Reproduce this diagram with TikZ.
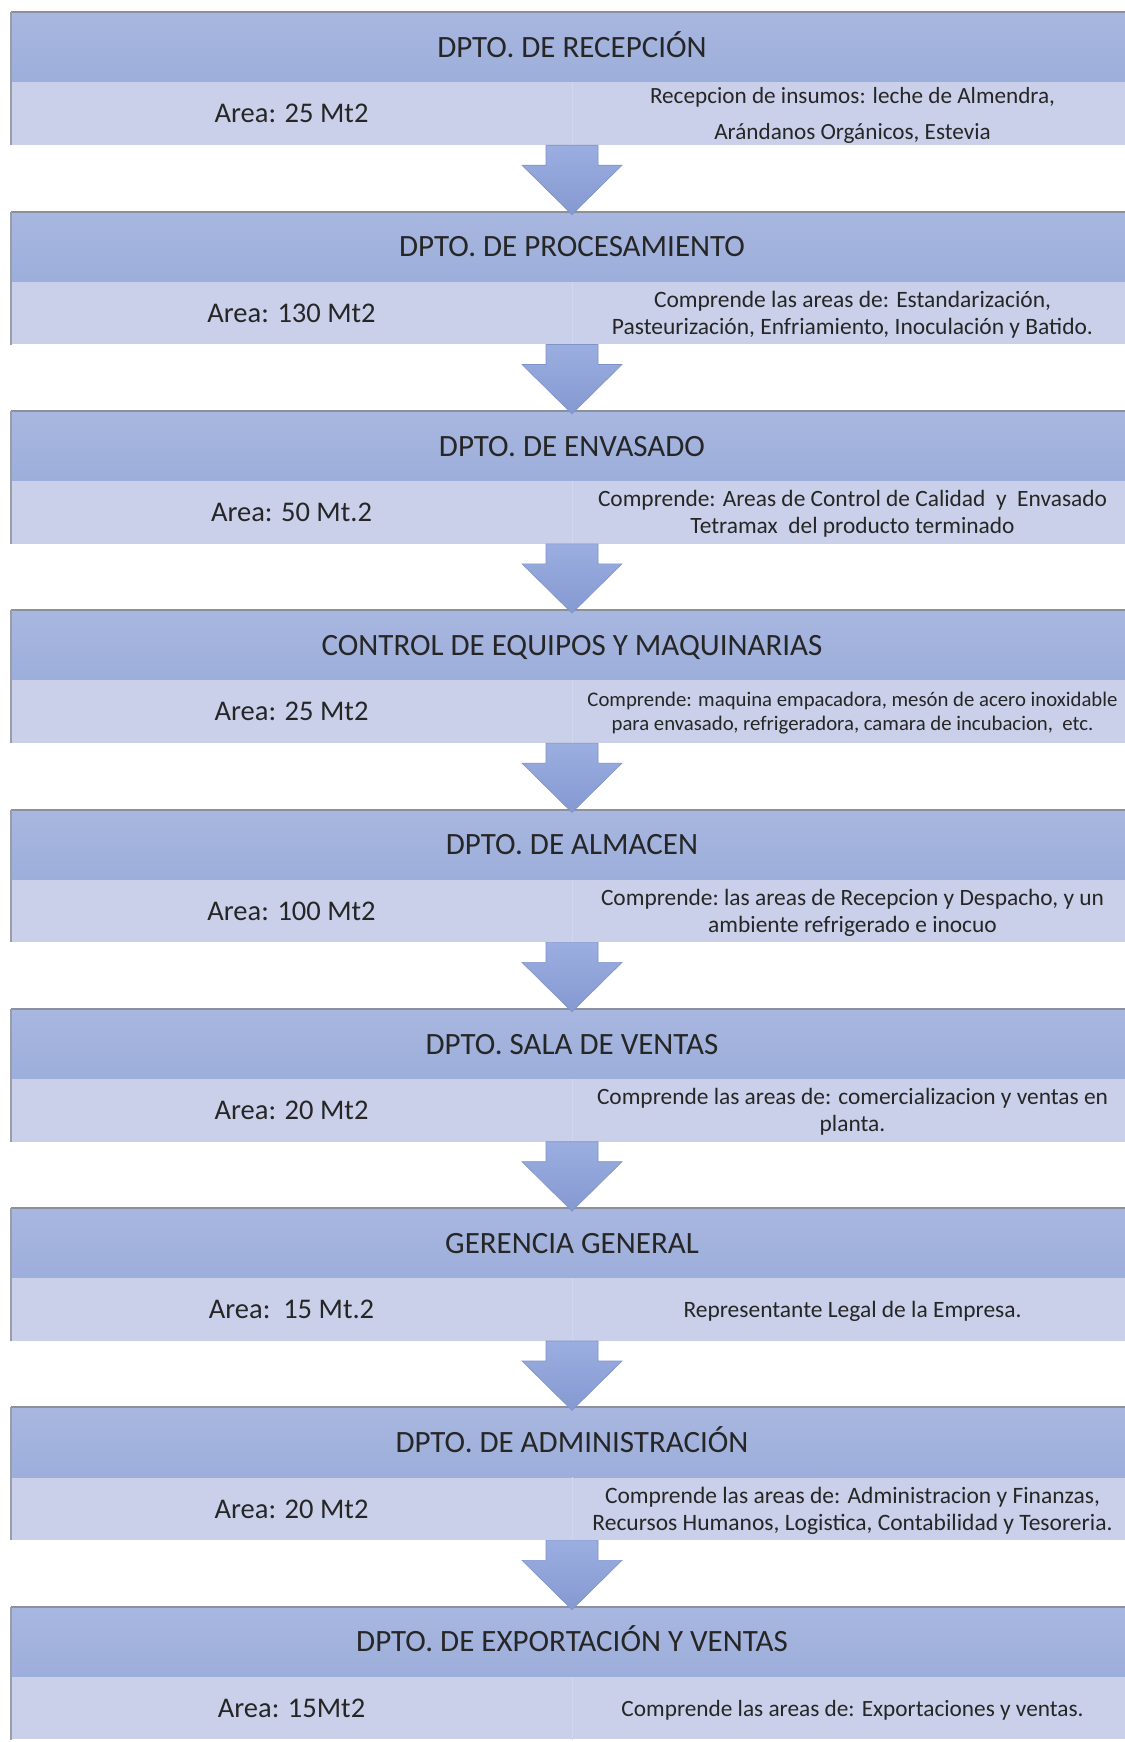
\documentclass[tikz,border=0pt]{standalone}
\usepackage{fontspec}
\setmainfont{Carlito}
\usepackage{graphicx}
\usetikzlibrary{calc}

\definecolor{hdrtop}{HTML}{A8B7E0}
\definecolor{hdrbot}{HTML}{9CAEDA}
\definecolor{rowfill}{HTML}{CAD0E9}
\definecolor{txt}{HTML}{262626}
\definecolor{rimtop}{HTML}{8B909A}
\definecolor{rimleft}{HTML}{989DA8}
\definecolor{divider}{HTML}{D1D7ED}
\definecolor{arrtop}{HTML}{9BAEE0}
\definecolor{arrbot}{HTML}{8599D2}
\definecolor{arredge}{HTML}{7F93CB}

% description text scaled to the width it occupies in its cell
\newcommand\rtext[2]{\resizebox{#1pt}{!}{\begin{tabular}{@{}c@{}}#2\end{tabular}}}

\tikzset{
  hdr/.style={rectangle, minimum width=1122pt, minimum height=70pt, inner sep=0pt,
    top color=hdrtop, bottom color=hdrbot},
  title/.style={inner sep=0pt, text=txt, text height=20pt, text depth=0pt,
    font=\fontsize{31}{37}\selectfont},
  row/.style={rectangle, minimum width=1122pt, minimum height=62.5pt, inner sep=0pt, fill=rowfill},
  areatext/.style={inner sep=0pt, text=txt, text height=18.4pt, text depth=0pt,
    font=\fontsize{28.5}{34}\selectfont},
  desc/.style={inner sep=0pt, text=txt, font=\fontsize{22}{25.5}\selectfont},
  rimt/.style={draw=rimtop, line width=2pt},
  riml/.style={draw=rimleft, line width=1.5pt},
  cellsep/.style={draw=divider, line width=0.8pt},
  flowarrow/.style={top color=arrtop, bottom color=arrbot, draw=arredge, line width=0.6pt, line join=miter}
}

% one department: index, top edge, title, area, text width, description
\newcommand\dept[6]{%
  \node[hdr] (h#1) at (572,{-(#2+35)}) {};
  \node[row] (s#1) at (572,{-(#2+101.25)}) {};
  \draw[cellsep] (s#1.north) -- (s#1.south);
  \draw[rimt] (h#1.north west) -- (h#1.north east);
  \draw[riml] (h#1.north west) -- (s#1.south west);
  \node[title] (t#1) at (h#1.center) {#3};
  \node[areatext] (a#1) at (291.5,{-(#2+101.25)}) {#4};
  \node[desc] (d#1) at (852.5,{-(#2+103.75)}) {\rtext{#5}{#6}};
}

% block arrow from one department to the next
\newcommand\flow[2]{%
  \path[flowarrow] ([xshift=-26pt]s#1.south) -- ([xshift=-26pt,yshift=-20pt]s#1.south)
    -- ([xshift=-50pt,yshift=-20pt]s#1.south) -- ([yshift=-3pt]h#2.north)
    -- ([xshift=50pt,yshift=-20pt]s#1.south) -- ([xshift=26pt,yshift=-20pt]s#1.south)
    -- ([xshift=26pt]s#1.south) -- cycle;
}

\begin{document}
\begin{tikzpicture}[x=1pt,y=1pt]
\useasboundingbox[fill=white] (0,0) rectangle (1124,-1742);

\dept{1}{12.5}{DPTO. DE RECEPCIÓN}{Area: 25 Mt2}{405}
  {Recepcion de insumos: leche de Almendra,\\[9pt] Arándanos Orgánicos, Estevia}
\dept{2}{211.8}{DPTO. DE PROCESAMIENTO}{Area: 130 Mt2}{481}
  {Comprende las areas de: Estandarización,\\ Pasteurización, Enfriamiento, Inoculación y Batido.}
\dept{3}{411.1}{DPTO. DE ENVASADO}{Area: 50 Mt.2}{509}
  {Comprende: Areas de Control de Calidad\ \ y\ \ Envasado\\ Tetramax\ \ del producto terminado}
\dept{4}{610.4}{CONTROL DE EQUIPOS Y MAQUINARIAS}{Area: 25 Mt2}{530}
  {Comprende: maquina empacadora, mesón de acero inoxidable\\ para envasado, refrigeradora, camara de incubacion,\ \ etc.}
\dept{5}{809.7}{DPTO. DE ALMACEN}{Area: 100 Mt2}{503}
  {Comprende:\ las areas de Recepcion y Despacho, y un\\ ambiente refrigerado e inocuo}
\dept{6}{1009.0}{DPTO. SALA DE VENTAS}{Area: 20 Mt2}{511}
  {Comprende las areas de: comercializacion y ventas en\\ planta.}
\dept{7}{1208.3}{GERENCIA GENERAL}{Area:\ \ 15 Mt.2}{338}
  {Representante Legal de la Empresa.}
\dept{8}{1407.6}{DPTO. DE ADMINISTRACIÓN}{Area: 20 Mt2}{520}
  {Comprende las areas de: Administracion y Finanzas,\\ Recursos Humanos, Logistica, Contabilidad y Tesoreria.}
\dept{9}{1606.9}{DPTO. DE EXPORTACIÓN Y VENTAS}{Area: 15Mt2}{462}
  {Comprende las areas de: Exportaciones y ventas.}

\flow{1}{2}
\flow{2}{3}
\flow{3}{4}
\flow{4}{5}
\flow{5}{6}
\flow{6}{7}
\flow{7}{8}
\flow{8}{9}
\end{tikzpicture}
\end{document}
